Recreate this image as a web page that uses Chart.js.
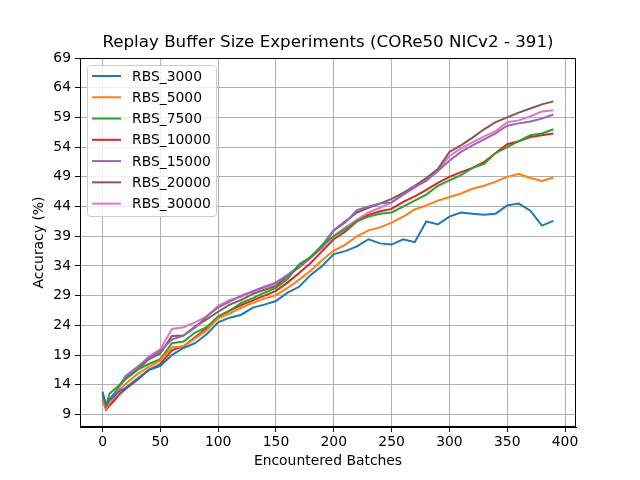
<!DOCTYPE html>
<html>
<head>
<meta charset="utf-8">
<title>Replay Buffer Size Experiments</title>
<script src="https://cdn.jsdelivr.net/npm/chart.js@4.4.1/dist/chart.umd.min.js"></script>
<style>
  html, body { margin: 0; padding: 0; background: #fff; }
  #wrap { width: 640px; height: 480px; }
</style>
</head>
<body>
<div id="wrap"><canvas id="myChart" width="640" height="480"></canvas></div>
<script>
// encountered batches (x values)
const batches = [0, 3, 6, 10, 15, 20, 30, 40, 50, 60, 70, 80, 90, 100, 110, 120, 130, 140, 150, 160,
  170, 180, 190, 200, 210, 220, 230, 240, 250, 260, 270, 280, 290, 300, 310, 320, 330, 340, 350, 360,
  370, 380, 390];

const rbs3000 = [12.8, 10.5, 11.5, 12.1, 13.0, 13.5, 15.0, 16.5, 17.2, 19.0, 20.2, 21.0, 22.5, 24.5, 25.3, 25.8, 27.0, 27.5, 28.1, 29.5,
  30.5, 32.5, 34.0, 36.0, 36.5, 37.3, 38.5, 37.8, 37.6, 38.5, 38.0, 41.5, 41.0, 42.3, 43.0, 42.8, 42.6, 42.8, 44.2, 44.5,
  43.3, 40.8, 41.6];
const rbs5000 = [11.5, 10.0, 11.0, 12.0, 13.2, 14.2, 15.8, 17.0, 18.1, 20.3, 20.5, 21.8, 23.2, 25.2, 26.0, 27.0, 27.8, 28.5, 29.1, 30.3,
  31.7, 33.2, 35.0, 36.6, 37.6, 39.0, 40.0, 40.5, 41.3, 42.3, 43.5, 44.2, 45.0, 45.6, 46.2, 47.0, 47.5, 48.2, 49.0, 49.5,
  48.8, 48.3, 48.9];
const rbs7500 = [12.0, 10.5, 12.5, 13.2, 14.0, 15.0, 16.5, 17.5, 18.3, 21.0, 21.3, 22.8, 23.7, 25.5, 26.5, 27.8, 28.6, 29.5, 30.3, 31.8,
  34.3, 35.5, 37.5, 39.0, 40.2, 41.5, 42.3, 42.8, 43.0, 44.0, 45.0, 46.0, 47.5, 48.4, 49.3, 50.5, 51.2, 53.0, 54.0, 55.0,
  56.0, 56.3, 57.0];
const rbs10000 = [11.5, 9.8, 10.5, 11.3, 12.5, 13.3, 14.8, 16.5, 17.5, 19.8, 20.5, 22.0, 23.5, 25.5, 26.5, 27.4, 28.2, 29.0, 29.8, 31.2,
  32.8, 34.5, 36.5, 38.5, 39.8, 41.5, 42.6, 43.2, 43.6, 44.8, 45.7, 46.8, 48.0, 49.0, 49.8, 50.5, 51.5, 53.0, 54.5, 55.0,
  55.7, 56.0, 56.3];
const rbs15000 = [12.5, 10.5, 11.5, 12.5, 14.0, 15.5, 17.0, 18.5, 19.7, 21.6, 22.3, 23.6, 25.5, 27.0, 28.0, 29.0, 29.7, 30.5, 31.2, 32.5,
  34.0, 35.5, 37.5, 40.0, 41.3, 43.4, 44.0, 44.5, 44.7, 46.0, 47.3, 48.3, 50.0, 51.7, 53.2, 54.3, 55.3, 56.3, 57.6, 58.0,
  58.3, 58.8, 59.5];
const rbs20000 = [12.0, 10.5, 11.5, 12.5, 14.0, 15.0, 16.5, 18.3, 19.3, 22.2, 22.3, 23.8, 25.0, 26.3, 27.5, 28.3, 29.3, 30.0, 30.6, 32.3,
  33.8, 35.5, 37.3, 40.0, 41.5, 43.0, 43.8, 44.5, 45.3, 46.3, 47.5, 48.8, 50.3, 53.2, 54.3, 55.6, 57.0, 58.2, 59.0, 59.8,
  60.5, 61.2, 61.7];
const rbs30000 = [12.9, 10.0, 11.0, 11.6, 13.8, 15.2, 16.8, 18.8, 20.0, 23.4, 23.7, 24.5, 25.5, 27.3, 28.3, 28.8, 29.8, 30.4, 30.9, 32.3,
  33.8, 35.3, 37.0, 39.1, 40.5, 41.8, 43.0, 43.8, 44.7, 46.0, 47.2, 48.5, 50.0, 52.5, 53.8, 54.8, 55.8, 56.7, 58.2, 58.5,
  59.2, 60.0, 60.2];

const seriesNames = ['RBS_3000', 'RBS_5000', 'RBS_7500', 'RBS_10000', 'RBS_15000', 'RBS_20000', 'RBS_30000'];
const seriesValues = [rbs3000, rbs5000, rbs7500, rbs10000, rbs15000, rbs20000, rbs30000];
const seriesColors = ['#1f77b4', '#ff7f0e', '#2ca02c', '#d62728', '#9467bd', '#8c564b', '#e377c2'];

const xTicks = [0, 50, 100, 150, 200, 250, 300, 350, 400];
const yTicks = [9, 14, 19, 24, 29, 34, 39, 44, 49, 54, 59, 64, 69];

const chartTitle = 'Replay Buffer Size Experiments (CORe50 NICv2 - 391)';
const FONT = 'DejaVu Sans';

// title centred over the plot, frame round the plot, legend box upper left
const boxAndLegend = {
  id: 'boxAndLegend',
  afterDraw(chart) {
    const ctx = chart.ctx;
    const a = chart.chartArea;
    ctx.save();

    ctx.fillStyle = '#000';
    ctx.font = '16.7px "' + FONT + '"';
    ctx.textAlign = 'center';
    ctx.textBaseline = 'middle';
    ctx.fillText(chartTitle, (a.left + a.right) / 2, 43);

    ctx.strokeStyle = '#000';
    ctx.lineWidth = 1;
    ctx.strokeRect(Math.round(a.left) + 0.5, Math.round(a.top) + 0.5,
      Math.round(a.right - a.left) - 1, Math.round(a.bottom - a.top) - 1);

    // legend
    const lx = a.left + 7.5, ly = a.top + 7.5, lw = 129, lh = 151;
    ctx.beginPath();
    ctx.roundRect(lx, ly, lw, lh, 3);
    ctx.fillStyle = 'rgba(255,255,255,0.8)';
    ctx.fill();
    ctx.strokeStyle = '#cccccc';
    ctx.lineWidth = 1;
    ctx.stroke();

    ctx.font = '13.9px "' + FONT + '"';
    ctx.textBaseline = 'middle';
    ctx.textAlign = 'left';
    for (let i = 0; i < seriesNames.length; i++) {
      const y = a.top + 18 + i * 21.27;
      ctx.beginPath();
      ctx.moveTo(a.left + 12, y);
      ctx.lineTo(a.left + 41, y);
      ctx.strokeStyle = seriesColors[i];
      ctx.lineWidth = 2;
      ctx.stroke();
      ctx.fillStyle = '#000';
      ctx.fillText(seriesNames[i], a.left + 52, y + 1);
    }
    ctx.restore();
  }
};

const ctx = document.getElementById('myChart');
new Chart(ctx, {
  type: 'line',
  data: {
    datasets: seriesNames.map((name, i) => ({
      label: name,
      data: batches.map((b, j) => ({ x: b, y: seriesValues[i][j] })),
      borderColor: seriesColors[i],
      backgroundColor: seriesColors[i],
      borderWidth: 2,
      pointRadius: 0,
      tension: 0,
      fill: false
    }))
  },
  options: {
    responsive: false,
    animation: false,
    events: [],
    devicePixelRatio: 1,
    layout: { padding: { left: 0, right: 64, top: 58, bottom: 0 } },
    plugins: {
      legend: { display: false },
      tooltip: { enabled: false },
      title: { display: false }
    },
    scales: {
      x: {
        type: 'linear',
        min: -19.5,
        max: 409.5,
        afterFit(scale) { scale.height = 53; },
        afterBuildTicks(scale) { scale.ticks = xTicks.map(v => ({ value: v })); },
        grid: { color: '#b0b0b0', lineWidth: 1, tickColor: '#000', tickLength: 5 },
        border: { color: '#000', width: 1 },
        ticks: { color: '#000', font: { family: FONT, size: 13.9 }, padding: 2, maxRotation: 0 },
        title: {
          display: true, text: 'Encountered Batches', color: '#000',
          font: { family: FONT, size: 13.9 }, padding: { top: 0, bottom: 10 }
        }
      },
      y: {
        type: 'linear',
        min: 6.9,
        max: 69,
        afterFit(scale) { scale.width = 80; },
        afterBuildTicks(scale) { scale.ticks = yTicks.map(v => ({ value: v })); },
        grid: { color: '#b0b0b0', lineWidth: 1, tickColor: '#000', tickLength: 5 },
        border: { color: '#000', width: 1 },
        ticks: { color: '#000', font: { family: FONT, size: 13.9 }, padding: 4 },
        title: {
          display: true, text: 'Accuracy (%)', color: '#000',
          font: { family: FONT, size: 13.9 }, padding: { top: 31, bottom: 0 }
        }
      }
    }
  },
  plugins: [boxAndLegend]
});
</script>
</body>
</html>
